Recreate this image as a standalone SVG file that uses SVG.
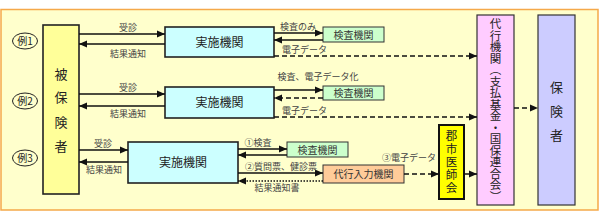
<svg xmlns="http://www.w3.org/2000/svg" width="600" height="221" viewBox="0 0 600 221">
<defs>
<marker id="ah" markerUnits="userSpaceOnUse" markerWidth="8" markerHeight="8" viewBox="0 0 8 8" refX="8" refY="4" orient="auto">
<path d="M0,0.5 L8,4 L0,7.5 Z" fill="#111"/>
</marker>
<style>
.t{font-family:"Noto Sans CJK JP","Noto Sans",sans-serif;}
.lbl{font-size:9px;fill:#444;}
.box{stroke:#222;stroke-width:1.6;}
.bt{font-size:12px;fill:#222;text-anchor:middle;}
.st{font-size:10px;fill:#333;text-anchor:middle;}
.ln{stroke:#111;stroke-width:1.3;fill:none;marker-end:url(#ah);}
.ds{stroke-dasharray:5,3;}
.dt{stroke-dasharray:1.5,1.5;}
.vt{writing-mode:vertical-rl;}
</style>
</defs>
<rect x="0" y="0" width="600" height="221" fill="#fff"/>
<rect x="1" y="9.5" width="597" height="200.5" fill="#ffffcc" stroke="#f5a94a" stroke-width="1.5"/>

<g id="ex-labels" class="t">
<ellipse cx="25" cy="41" rx="12.5" ry="8" fill="none" stroke="#222" stroke-width="1"/>
<text x="25" y="44.5" font-size="10" text-anchor="middle" fill="#222">例1</text>
<ellipse cx="25" cy="101" rx="12.5" ry="8" fill="none" stroke="#222" stroke-width="1"/>
<text x="25" y="104.5" font-size="10" text-anchor="middle" fill="#222">例2</text>
<ellipse cx="25" cy="158" rx="12.5" ry="8" fill="none" stroke="#222" stroke-width="1"/>
<text x="25" y="161.5" font-size="10" text-anchor="middle" fill="#222">例3</text>
</g>

<g id="hihokensha" class="t">
<rect x="43" y="25" width="36" height="169" fill="#ffff99" class="box"/>
<text x="61" y="79" font-size="13" text-anchor="middle" fill="#222">被</text>
<text x="61" y="102" font-size="13" text-anchor="middle" fill="#222">保</text>
<text x="61" y="127" font-size="13" text-anchor="middle" fill="#222">険</text>
<text x="61" y="151" font-size="13" text-anchor="middle" fill="#222">者</text>
</g>

<g id="jisshi1" class="t">
<rect x="165" y="27" width="109" height="30" fill="#ccffff" class="box"/>
<text x="219.5" y="46.5" class="bt">実施機関</text>
</g>
<g id="kensa1" class="t">
<rect x="323" y="27" width="61" height="15" fill="#ccffcc" stroke="#333" stroke-width="1"/>
<text x="353.5" y="38.5" class="st">検査機関</text>
</g>

<g id="jisshi2" class="t">
<rect x="165" y="87" width="109" height="31" fill="#ccffff" class="box"/>
<text x="219.5" y="107" class="bt">実施機関</text>
</g>
<g id="kensa2" class="t">
<rect x="323" y="86" width="61" height="14" fill="#ccffcc" stroke="#333" stroke-width="1"/>
<text x="353.5" y="97" class="st">検査機関</text>
</g>

<g id="jisshi3" class="t">
<rect x="128" y="142" width="110" height="41" fill="#ccffff" class="box"/>
<text x="183" y="166.5" class="bt">実施機関</text>
</g>
<g id="kensa3" class="t">
<rect x="287" y="142" width="61" height="15" fill="#ccffcc" stroke="#333" stroke-width="1"/>
<text x="317.5" y="153.5" class="st">検査機関</text>
</g>
<g id="dainyuryoku" class="t">
<rect x="323" y="165" width="81" height="18" fill="#ffcc99" stroke="#333" stroke-width="1"/>
<text x="363.5" y="177.5" class="st">代行入力機関</text>
</g>

<g id="gunshi" class="t">
<rect x="439" y="125" width="25" height="74" fill="#ffff00" stroke="#111" stroke-width="2"/>
<text x="451.5" y="162" font-size="11.5" fill="#222" text-anchor="middle" letter-spacing="1.5" class="vt" dominant-baseline="central">郡市医師会</text>
</g>

<g id="daiko" class="t">
<rect x="477" y="15" width="37" height="190" fill="#ffccff" stroke="#333" stroke-width="1.2"/>
<text x="495.5" y="110" font-size="11.5" fill="#222" text-anchor="middle" class="vt" dominant-baseline="central">代行機関（支払基金・国保連合会）</text>
</g>

<g id="hokensha" class="t">
<rect x="538" y="15" width="37" height="190" fill="#ccccff" stroke="#333" stroke-width="1.2"/>
<text x="556.5" y="92" font-size="13" text-anchor="middle" fill="#222">保</text>
<text x="556.5" y="116" font-size="13" text-anchor="middle" fill="#222">険</text>
<text x="556.5" y="140" font-size="13" text-anchor="middle" fill="#222">者</text>
</g>

<g id="connectors">
<line x1="79" y1="34" x2="165" y2="34" class="ln"/>
<line x1="165" y1="44" x2="79" y2="44" class="ln"/>
<line x1="274" y1="33" x2="323" y2="33" class="ln"/>
<line x1="323" y1="40" x2="274" y2="40" class="ln"/>
<line x1="274" y1="56" x2="477" y2="56" class="ln ds"/>

<line x1="79" y1="94" x2="165" y2="94" class="ln"/>
<line x1="165" y1="106" x2="79" y2="106" class="ln"/>
<line x1="274" y1="90" x2="323" y2="90" class="ln"/>
<line x1="323" y1="98" x2="274" y2="98" class="ln ds"/>
<line x1="274" y1="117" x2="477" y2="117" class="ln ds"/>

<line x1="79" y1="150" x2="128" y2="150" class="ln"/>
<line x1="128" y1="162" x2="79" y2="162" class="ln"/>
<line x1="238" y1="149" x2="287" y2="149" class="ln"/>
<line x1="287" y1="155" x2="238" y2="155" class="ln"/>
<line x1="238" y1="173" x2="323" y2="173" class="ln"/>
<line x1="323" y1="181" x2="238" y2="181" class="ln dt"/>
<line x1="404" y1="174" x2="439" y2="174" class="ln ds"/>
<line x1="464" y1="174" x2="477" y2="174" class="ln ds"/>
<line x1="514" y1="108" x2="538" y2="108" class="ln ds"/>
</g>

<g id="conn-labels" class="t lbl">
<text x="128" y="31" text-anchor="middle">受診</text>
<text x="128" y="57" text-anchor="middle">結果通知</text>
<text x="298" y="30" text-anchor="middle">検査のみ</text>
<text x="282" y="53">電子データ</text>
<text x="128" y="91" text-anchor="middle">受診</text>
<text x="128" y="117" text-anchor="middle">結果通知</text>
<text x="318" y="80" text-anchor="middle">検査、電子データ化</text>
<text x="282" y="114">電子データ</text>
<text x="103" y="147" text-anchor="middle">受診</text>
<text x="104" y="173" text-anchor="middle">結果通知</text>
<text x="258" y="146" text-anchor="middle">①検査</text>
<text x="281" y="170" text-anchor="middle">②質問票、健診票</text>
<text x="277" y="191" text-anchor="middle">結果通知書</text>
<text x="409" y="161" text-anchor="middle">③電子データ</text>
</g>
</svg>
